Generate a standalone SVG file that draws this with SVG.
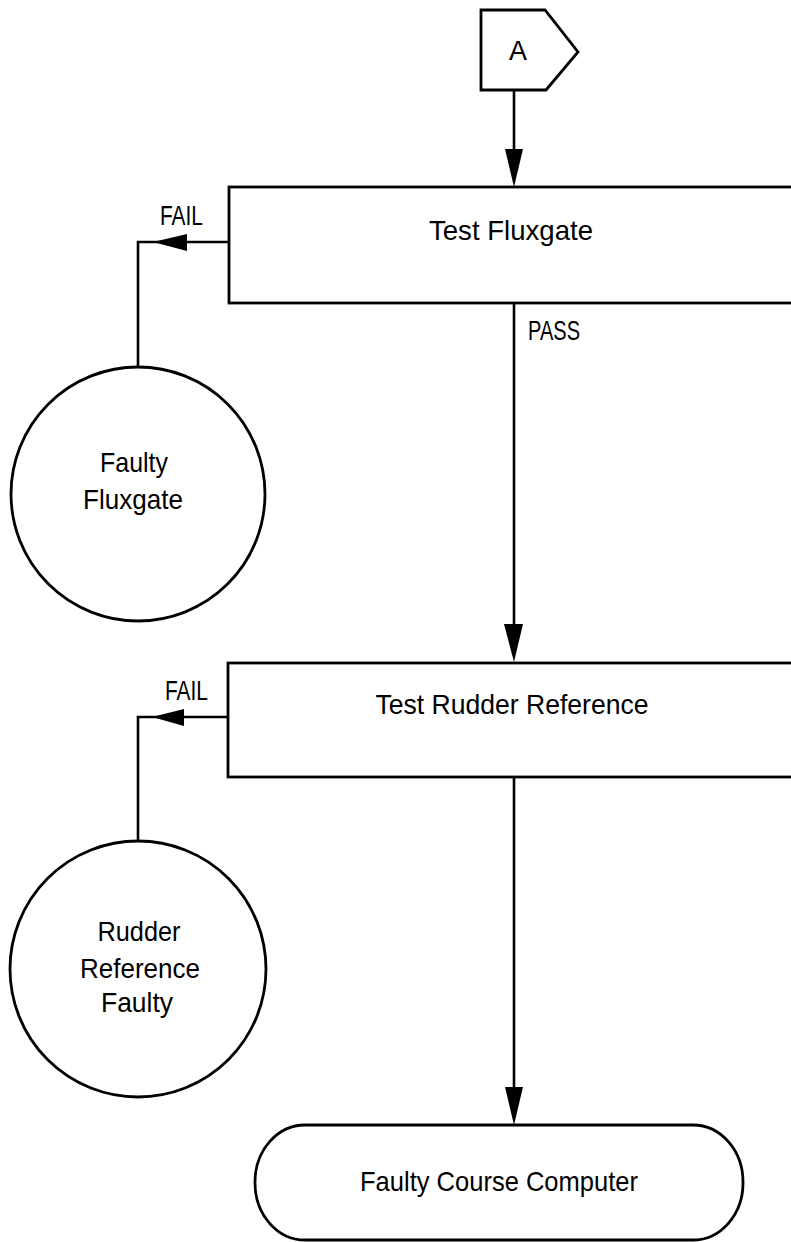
<svg xmlns="http://www.w3.org/2000/svg" width="791" height="1242" viewBox="0 0 791 1242">
<style>
  .shape { fill: #fff; stroke: #000; stroke-width: 2.8; }
  .line { fill: none; stroke: #000; stroke-width: 2.6; }
  .head { fill: #000; stroke: none; }
  text { font-family: "Liberation Sans", Arial, sans-serif; fill: #000; }
  .lbl { font-size: 28px; text-anchor: middle; }
  .small { font-size: 27px; }
</style>
<rect width="791" height="1242" fill="#fff"/>

<g id="connectors">
  <!-- A to Test Fluxgate -->
  <line class="line" x1="514" y1="90" x2="514" y2="160"/>
  <polygon class="head" points="505,149 523,149 514,187"/>
  <!-- Test Fluxgate FAIL to Faulty Fluxgate -->
  <polyline class="line" points="229,242 138,242 138,367"/>
  <polygon class="head" points="153,242 187,234 187,251"/>
  <text class="small" x="160" y="225" textLength="43" lengthAdjust="spacingAndGlyphs">FAIL</text>
  <!-- Test Fluxgate PASS to Test Rudder Reference -->
  <line class="line" x1="514" y1="303" x2="514" y2="630"/>
  <polygon class="head" points="504,624 523,624 514,662"/>
  <text class="small" x="528" y="340" textLength="52" lengthAdjust="spacingAndGlyphs">PASS</text>
  <!-- Test Rudder Reference FAIL to Rudder Reference Faulty -->
  <polyline class="line" points="228,717 138,717 138,841"/>
  <polygon class="head" points="152,717 184,709 184,726"/>
  <text class="small" x="165" y="700" textLength="43" lengthAdjust="spacingAndGlyphs">FAIL</text>
  <!-- Test Rudder Reference to Faulty Course Computer -->
  <line class="line" x1="514" y1="777" x2="514" y2="1095"/>
  <polygon class="head" points="505,1087 523,1087 514,1125"/>
</g>

<g id="node-A">
  <polygon class="shape" points="481,10 545,10 578,52 546,90 481,90"/>
  <text class="lbl" x="518" y="60" textLength="18" lengthAdjust="spacingAndGlyphs">A</text>
</g>

<g id="node-test-fluxgate">
  <rect class="shape" x="229" y="187" width="600" height="116"/>
  <text class="lbl" x="511" y="240" textLength="164" lengthAdjust="spacingAndGlyphs">Test Fluxgate</text>
</g>

<g id="node-faulty-fluxgate">
  <circle class="shape" cx="138" cy="494" r="127"/>
  <text class="lbl" x="134" y="472" textLength="68" lengthAdjust="spacingAndGlyphs">Faulty</text>
  <text class="lbl" x="133" y="509" textLength="100" lengthAdjust="spacingAndGlyphs">Fluxgate</text>
</g>

<g id="node-test-rudder-reference">
  <rect class="shape" x="228" y="663" width="600" height="114"/>
  <text class="lbl" x="512" y="714" textLength="273" lengthAdjust="spacingAndGlyphs">Test Rudder Reference</text>
</g>

<g id="node-rudder-reference-faulty">
  <circle class="shape" cx="138" cy="969" r="128"/>
  <text class="lbl" x="139" y="941" textLength="83" lengthAdjust="spacingAndGlyphs">Rudder</text>
  <text class="lbl" x="140" y="978" textLength="120" lengthAdjust="spacingAndGlyphs">Reference</text>
  <text class="lbl" x="137" y="1012" textLength="72" lengthAdjust="spacingAndGlyphs">Faulty</text>
</g>

<g id="node-faulty-course-computer">
  <rect class="shape" x="255" y="1125" width="488" height="115" rx="50" ry="57"/>
  <text class="lbl" x="499" y="1191" textLength="278" lengthAdjust="spacingAndGlyphs">Faulty Course Computer</text>
</g>
</svg>
